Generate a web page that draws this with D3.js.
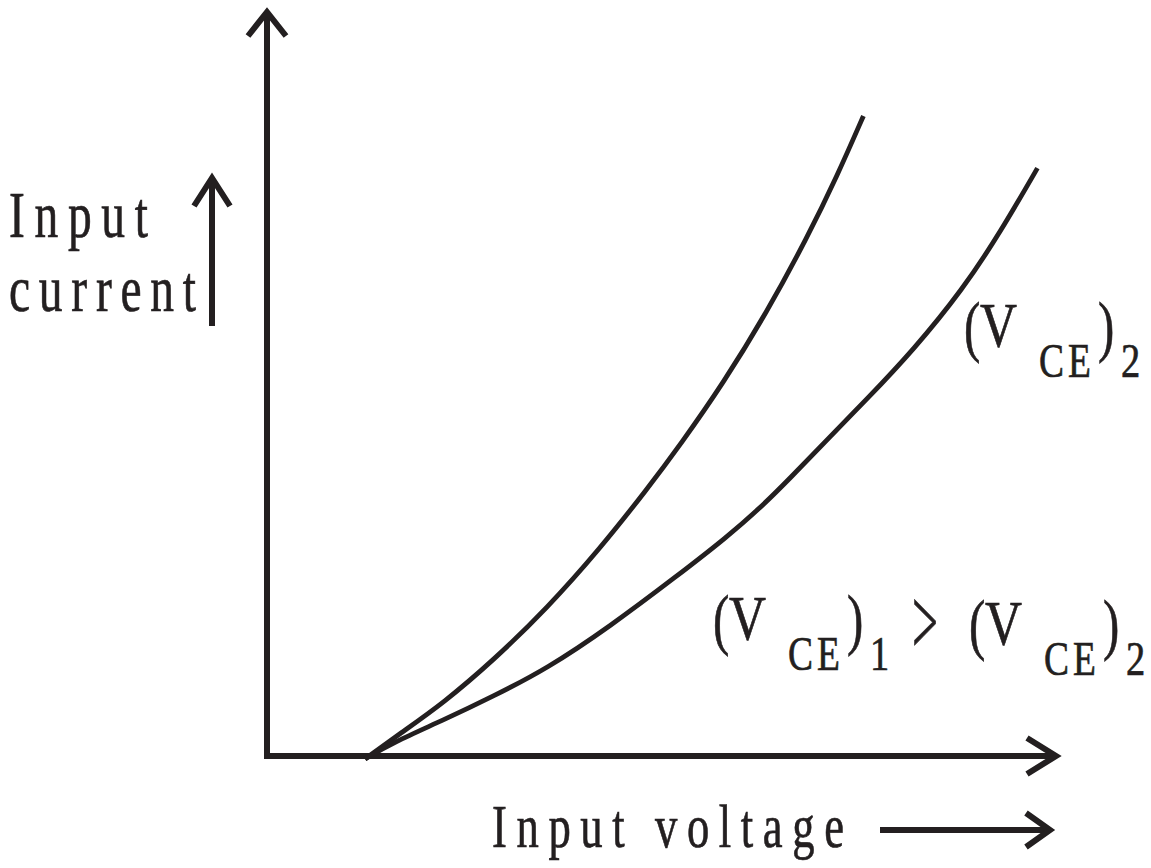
<!DOCTYPE html>
<html>
<head>
<meta charset="utf-8">
<script src="https://cdn.jsdelivr.net/npm/d3@7"></script>
<style>
  html, body { margin: 0; padding: 0; background: #ffffff; }
  svg { display: block; }
</style>
</head>
<body>
<script>
// ---- data (arbitrary units: input voltage 0..100, input current 0..100) ----
const curve1Voltage = [12.4, 16.8, 22.3, 28.6, 35.4, 42.1, 48.0, 52.3, 57.7, 63.2, 68.3, 72.1, 75.4];
const curve1Current = [-0.4, 3.0, 7.1, 12.8, 19.8, 27.8, 35.7, 41.8, 50.0, 59.5, 69.5, 77.8, 85.8];
const curve2Voltage = [12.4, 15.9, 22.3, 28.6, 35.4, 43.4, 51.8, 58.2, 62.3, 66.1, 70.8, 75.9, 81.7, 88.0, 92.7, 97.4];
const curve2Current = [-0.4, 1.8, 4.8, 8.0, 11.7, 17.4, 24.1, 29.4, 33.2, 37.2, 42.4, 47.9, 54.4, 62.6, 70.2, 78.8];
const yLabelLines = ["Input", "current"];
const xLabelText = "Input voltage";
const vceSymbol = "V";
const vceSub = "CE";
const curve2Index = "2";
const curve1Index = "1";
const compareSign = ">";

const W = 1151, H = 868, INK = "#231f20";
const FONT = "'Liberation Serif', 'Times New Roman', Times, serif";
const svg = d3.select("body").append("svg").attr("width", W).attr("height", H);

const x = d3.scaleLinear().domain([0, 100]).range([267, 1058]);
const y = d3.scaleLinear().domain([0, 100]).range([756, 10]);

// ---- axes ----
const x0 = x(0), y0 = y(0), xEnd = x(100), yEnd = y(100);
svg.append("path")
  .attr("d", `M${x0},${yEnd + 2}L${x0},${y0}L${xEnd - 2},${y0}`)
  .attr("fill", "none").attr("stroke", INK).attr("stroke-width", 6)
  .attr("stroke-linejoin", "miter");
svg.append("path")
  .attr("d", `M${x0 - 19},${yEnd + 26}L${x0},${yEnd + 2}L${x0 + 19},${yEnd + 26}`)
  .attr("fill", "none").attr("stroke", INK).attr("stroke-width", 6);
svg.append("path")
  .attr("d", `M${xEnd - 31},${y0 - 18}L${xEnd - 2},${y0}L${xEnd - 31},${y0 + 18}`)
  .attr("fill", "none").attr("stroke", INK).attr("stroke-width", 6);

// ---- curves ----
const line = d3.line().x(d => x(d[0])).y(d => y(d[1])).curve(d3.curveBasis);
const c1 = curve1Voltage.map((v, i) => [v, curve1Current[i]]);
const c2 = curve2Voltage.map((v, i) => [v, curve2Current[i]]);
[c1, c2].forEach(c => {
  svg.append("path").attr("d", line(c))
    .attr("fill", "none").attr("stroke", INK).attr("stroke-width", 4.8)
    .attr("stroke-linecap", "butt");
});

// ---- text helper ----
function txt(str, tx, ty, size, sx, len) {
  const t = svg.append("text")
    .attr("transform", `translate(${tx},${ty}) scale(${sx},1)`)
    .attr("font-family", FONT)
    .attr("fill", INK)
    .attr("stroke", INK).attr("stroke-width", 0.7)
    .attr("font-size", size).text(str);
  if (len) t.attr("textLength", len / sx).attr("lengthAdjust", "spacing");
  return t;
}

// y label + arrow
txt(yLabelLines[0], 9, 237, 66, 0.72, 139);
txt(yLabelLines[1], 9, 311, 66, 0.72, 187);
svg.append("path").attr("d", "M212,326L212,178")
  .attr("fill", "none").attr("stroke", INK).attr("stroke-width", 6);
svg.append("path").attr("d", "M194,206L212,178L230,206")
  .attr("fill", "none").attr("stroke", INK).attr("stroke-width", 6);

// x label + arrow
txt(xLabelText, 492, 847, 62, 0.72, 352);
svg.append("path").attr("d", "M880,830L1048,830")
  .attr("fill", "none").attr("stroke", INK).attr("stroke-width", 6);
svg.append("path").attr("d", "M1026,813L1050,830L1026,847")
  .attr("fill", "none").attr("stroke", INK).attr("stroke-width", 6);

// (V_CE)_n group
function vce(gx, b, idx) {
  txt("(", gx, b + 2, 68, 0.72);
  txt(vceSymbol, gx + 16, b, 64, 0.8);
  txt(vceSub, gx + 75, b + 30, 48, 0.78, 52);
  txt(")", gx + 134, b + 2, 68, 0.72);
  txt(idx, gx + 157, b + 30, 48, 0.8);
}
vce(964, 347, curve2Index);
vce(713, 640, curve1Index);
txt(compareSign, 912, 654, 96, 0.48);
vce(969, 645, curve2Index);
</script>
</body>
</html>
